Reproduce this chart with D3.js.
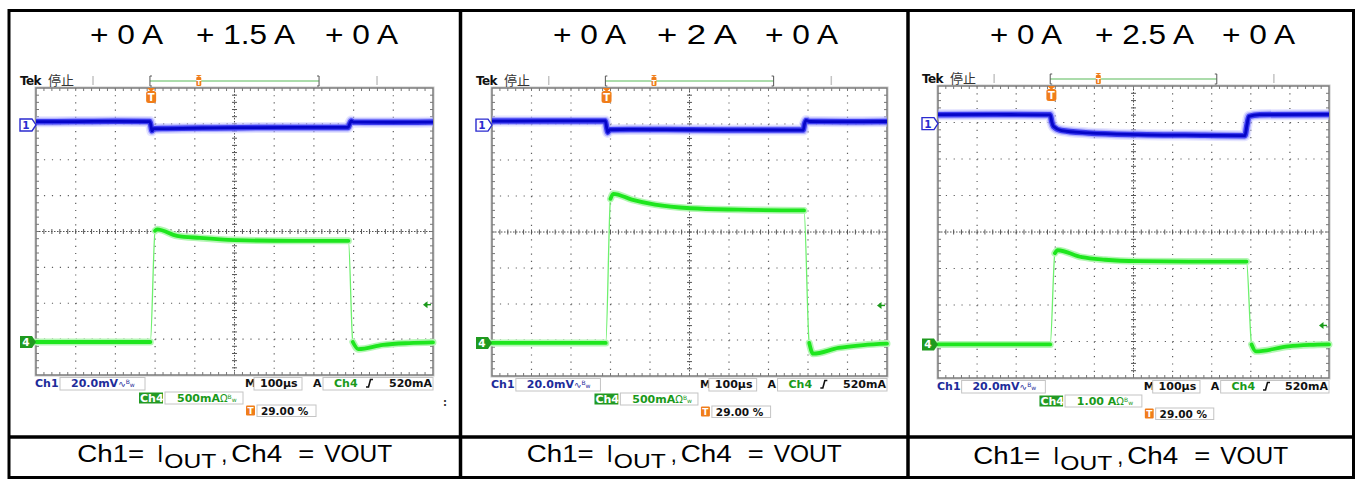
<!DOCTYPE html>
<html>
<head>
<meta charset="utf-8">
<script src="https://cdn.jsdelivr.net/npm/d3@7"></script>
<style>
body{margin:0;background:#fff;}
svg{display:block;}
</style>
</head>
<body>
<svg id="chart" width="1358" height="480"></svg>
<script>
// ---------------- DATA ----------------
const headerLabels = [
  ["+ 0 A", "+ 1.5 A", "+ 0 A"],
  ["+ 0 A", "+ 2 A", "+ 0 A"],
  ["+ 0 A", "+ 2.5 A", "+ 0 A"]
];
const footerParts = ["Ch1=", "I", "OUT", ",", "Ch4", "=", "VOUT"];
const ch1ScaleLabel = "20.0mV";
const ch1PerDiv = 20;                 // mV per division
const ch4ScaleLabels = ["500mA", "500mA", "1.00 A"];
const ch4PerDiv = [0.5, 0.5, 1.0];    // A per division
const timeScaleLabel = "100µs";
const timePerDiv = 100;               // µs per division
const triggerLevelLabel = "520mA";
const triggerLevel = 0.52;            // A
const triggerPosLabel = "29.00 %";
const triggerTime = 290;              // µs
const ch1OffsetDiv = 2.97;            // ch1 reference, divisions above centre
const ch4OffsetDiv = -3.08;           // ch4 reference, divisions above centre

// Ch1 traces: [time µs, mV]
const ch1Panel1 = [[0,1.8],[100,1.9],[200,2.0],[287,1.9],[290,-1.0],[292,-3.3],[296,-2.1],[330,-2.0],[420,-1.7],[520,-1.5],[650,-1.4],[786,-1.4],[790,0.5],[794,2.2],[800,1.6],[900,1.5],[1000,1.6]];
const ch1Panel2 = [[0,2.2],[150,2.3],[287,2.3],[290,-1.0],[293,-4.1],[298,-2.6],[350,-2.4],[500,-2.6],[650,-2.7],[788,-2.8],[791,0.5],[795,2.6],[805,2.0],[900,1.9],[1000,2.0]];
const ch1Panel3 = [[0,4.9],[150,5.0],[287,4.8],[291,1.0],[295,-1.5],[316,-3.8],[384,-5.1],[511,-6.0],[683,-6.4],[785,-6.6],[790,-1.0],[795,4.0],[823,4.9],[1000,5.0]];

// Ch4 traces: [time µs, A]
const ch4Panel1 = [[0,0],[150,0],[288,0],[300,1.55],[305,1.57],[355,1.48],[413,1.45],[501,1.42],[650,1.41],[787,1.41],[798,0],[812,-0.10],[874,-0.04],[940,-0.015],[1000,-0.005]];
const ch4Panel2 = [[0,0],[150,0],[288,0],[300,2.0],[307,2.07],[354,1.99],[413,1.92],[502,1.87],[624,1.85],[790,1.84],[803,0],[813,-0.15],[877,-0.07],[940,-0.03],[1000,-0.01]];
const ch4Panel3 = [[0,0],[150,0],[287,0],[299,2.5],[306,2.58],[368,2.39],[427,2.32],[512,2.28],[650,2.27],[789,2.27],[802,0],[813,-0.19],[896,-0.055],[950,-0.015],[1000,0]];

const ch1Series = [ch1Panel1, ch1Panel2, ch1Panel3];
const ch4Series = [ch4Panel1, ch4Panel2, ch4Panel3];

// ---------------- LAYOUT ----------------
const scopes = [
  {x:36,  y:88, w:397, h:287},
  {x:492, y:88, w:395, h:288},
  {x:938, y:86, w:391, h:292}
];
const panelBounds = [[9,460.5],[460.5,908],[908,1353.5]];
const headerLayout = [
  [[90,73],[196,99],[325,73]],
  [[553,73],[657,80],[765,73]],
  [[990,72],[1095,99],[1222,73]]
];
const footerLayout = [[0,67],[80,6],[87,52],[144,6],[154,51],[221,16],[247,68]];
const footerWidth = 315;

const svg = d3.select("#chart");
const SANS = "'Liberation Sans', Arial, Helvetica, sans-serif";
const SCOPE = "'DejaVu Sans', Verdana, sans-serif";
const BLUE_TXT = "#1d2c9a", GREEN_TXT = "#1a9a1a", ORANGE = "#f07d1a";

svg.append("rect").attr("width",1358).attr("height",480).attr("fill","#fff");

scopes.forEach((s, i) => {
  const g = svg.append("g");
  const x0 = s.x, x1 = s.x + s.w, y0 = s.y, y1 = s.y + s.h;
  const k = s.w / 397;
  const xS = d3.scaleLinear().domain([0, 10*timePerDiv]).range([x0, x1]);
  const divY = d3.scaleLinear().domain([-4, 4]).range([y1, y0]);
  const ch1Y = d3.scaleLinear().domain([(-4-ch1OffsetDiv)*ch1PerDiv, (4-ch1OffsetDiv)*ch1PerDiv]).range([y1, y0]);
  const ch4Y = d3.scaleLinear().domain([(-4-ch4OffsetDiv)*ch4PerDiv[i], (4-ch4OffsetDiv)*ch4PerDiv[i]]).range([y1, y0]);
  const divW = s.w/10, divH = s.h/8;

  // ---- header ----
  headerLabels[i].forEach((t, j) => {
    svg.append("text").attr("x", headerLayout[i][j][0]).attr("y", 44)
      .attr("textLength", headerLayout[i][j][1]).attr("lengthAdjust","spacingAndGlyphs")
      .attr("font-family", SANS).attr("font-size", 27).attr("fill","#000").text(t);
  });

  // ---- grid ----
  const grid = g.append("g");
  d3.range(1,10).filter(d => d !== 5).forEach(d => {
    grid.append("line").attr("x1", xS(d*timePerDiv)).attr("x2", xS(d*timePerDiv))
      .attr("y1", y0).attr("y2", y1).attr("stroke","#5e5e5e").attr("stroke-width",1.2)
      .attr("stroke-dasharray", `1.2,${(divH/5-1.2).toFixed(2)}`);
  });
  d3.range(-3,4).filter(d => d !== 0).forEach(d => {
    grid.append("line").attr("x1", x0).attr("x2", x1).attr("y1", divY(d)).attr("y2", divY(d))
      .attr("stroke","#5e5e5e").attr("stroke-width",1.2)
      .attr("stroke-dasharray", `1.2,${(divW/5-1.2).toFixed(2)}`);
  });
  const cx = xS(5*timePerDiv), cy = divY(0);
  grid.append("line").attr("x1",cx).attr("x2",cx).attr("y1",y0).attr("y2",y1)
    .attr("stroke","#555").attr("stroke-width",1).attr("stroke-dasharray","1.5,1.5");
  grid.append("line").attr("x1",x0).attr("x2",x1).attr("y1",cy).attr("y2",cy)
    .attr("stroke","#555").attr("stroke-width",1).attr("stroke-dasharray","1.5,1.5");
  d3.range(1,50).forEach(m => {
    const xx = xS(m*timePerDiv/5);
    grid.append("line").attr("x1",xx).attr("x2",xx).attr("y1",cy-2.5).attr("y2",cy+2.5).attr("stroke","#555").attr("stroke-width",1);
    grid.append("line").attr("x1",xx).attr("x2",xx).attr("y1",y0).attr("y2",y0+3).attr("stroke","#777").attr("stroke-width",1);
    grid.append("line").attr("x1",xx).attr("x2",xx).attr("y1",y1-3).attr("y2",y1).attr("stroke","#777").attr("stroke-width",1);
  });
  d3.range(1,40).forEach(m => {
    const yy = divY(-4 + m/5);
    grid.append("line").attr("x1",cx-2.5).attr("x2",cx+2.5).attr("y1",yy).attr("y2",yy).attr("stroke","#555").attr("stroke-width",1);
    grid.append("line").attr("x1",x0).attr("x2",x0+3).attr("y1",yy).attr("y2",yy).attr("stroke","#777").attr("stroke-width",1);
    grid.append("line").attr("x1",x1-3).attr("x2",x1).attr("y1",yy).attr("y2",yy).attr("stroke","#777").attr("stroke-width",1);
  });
  grid.append("rect").attr("x",x0-1).attr("y",y0-1).attr("width",s.w+2).attr("height",s.h+2)
    .attr("fill","none").attr("stroke","#c8c8c8").attr("stroke-width",1);
  grid.append("rect").attr("x",x0).attr("y",y0).attr("width",s.w).attr("height",s.h)
    .attr("fill","none").attr("stroke","#7a7a7a").attr("stroke-width",1.5);

  // ---- top bar ----
  g.append("text").attr("x", x0-16).attr("y", y0-3).attr("font-family", SCOPE).attr("font-weight","bold")
    .attr("font-size", 12).attr("letter-spacing", -0.6).attr("fill","#111").text("Tek");
  g.append("text").attr("x", x0+12).attr("y", y0-3).attr("font-family","'Noto Sans CJK SC', sans-serif")
    .attr("font-size", 13).attr("fill","#333").text("停止");
  [0.1436, 0.859].forEach(f => {
    g.append("line").attr("x1", x0+f*s.w).attr("x2", x0+f*s.w).attr("y1", y0-12).attr("y2", y0-3)
      .attr("stroke","#c4c4c4").attr("stroke-width",1.5);
  });
  const bA = x0+0.287*s.w, bB = x0+0.713*s.w, by = y0-7;
  g.append("line").attr("x1",bA).attr("x2",bB).attr("y1",by).attr("y2",by).attr("stroke","#8fd18f").attr("stroke-width",1.6);
  g.append("path").attr("d",`M${bA+2},${by-5}h-2v10h2`).attr("fill","none").attr("stroke","#555").attr("stroke-width",1);
  g.append("path").attr("d",`M${bB-2},${by-5}h2v10h-2`).attr("fill","none").attr("stroke","#555").attr("stroke-width",1);
  const tm = x0 + 0.41*s.w;
  g.append("path").attr("d",`M${tm-3},${y0-13}h6l-3,2z`).attr("fill",ORANGE);
  g.append("rect").attr("x",tm-2.5).attr("y",y0-11).attr("width",5).attr("height",9).attr("rx",1).attr("fill",ORANGE);
  g.append("text").attr("x",tm).attr("y",y0-3.5).attr("text-anchor","middle").attr("font-family",SCOPE)
    .attr("font-weight","bold").attr("font-size",7).attr("fill","#fff").text("T");

  const tx = xS(triggerTime);
  g.append("path").attr("d",`M${tx-4},${y0}h8l-4,4z`).attr("fill",ORANGE);
  g.append("rect").attr("x",tx-5).attr("y",y0+3).attr("width",10).attr("height",12).attr("rx",2.5).attr("fill",ORANGE);
  g.append("text").attr("x",tx).attr("y",y0+13).attr("text-anchor","middle").attr("font-family",SCOPE)
    .attr("font-weight","bold").attr("font-size",10).attr("fill","#fff").text("T");

  // ---- traces ----
  const pts1 = ch1Series[i].map(d => [xS(d[0]), ch1Y(d[1])]);
  const line = d3.line().curve(d3.curveMonotoneX);
  const tr = g.append("g");
  tr.append("path").attr("d", line(pts1)).attr("fill","none").attr("stroke","#c4c4ff").attr("stroke-width",11).attr("stroke-opacity",0.45);
  tr.append("path").attr("d", line(pts1)).attr("fill","none").attr("stroke","#8c8cff").attr("stroke-width",8).attr("stroke-opacity",0.6);
  tr.append("path").attr("d", line(pts1)).attr("fill","none").attr("stroke","#3030ee").attr("stroke-width",5.5).attr("stroke-opacity",0.9);
  tr.append("path").attr("d", line(pts1)).attr("fill","none").attr("stroke","#0606c8").attr("stroke-width",2.8);

  const pts4 = ch4Series[i].map(d => [xS(d[0]), ch4Y(d[1])]);
  tr.append("path").attr("d", line(pts4)).attr("fill","none").attr("stroke","#6ef06e").attr("stroke-width",1.3);
  const runs = [];
  let cur = [pts4[0]];
  for (let p = 1; p < pts4.length; p++) {
    const dx = Math.abs(pts4[p][0]-pts4[p-1][0]), dy = Math.abs(pts4[p][1]-pts4[p-1][1]);
    if (dy > 4*dx) { if (cur.length > 1) runs.push(cur); cur = [pts4[p]]; }
    else cur.push(pts4[p]);
  }
  if (cur.length > 1) runs.push(cur);
  runs.forEach(r => {
    tr.append("path").attr("d", line(r)).attr("fill","none").attr("stroke","#b4f6b4").attr("stroke-width",7).attr("stroke-linecap","round");
    tr.append("path").attr("d", line(r)).attr("fill","none").attr("stroke","#1ee61e").attr("stroke-width",3.8).attr("stroke-linecap","round");
  });

  // ---- channel markers ----
  const m1 = ch1Y(0), m4 = ch4Y(0);
  g.append("path").attr("d",`M${x0-16},${m1-6}h12l4,6l-4,6h-12z`).attr("fill","#fff").attr("stroke","#2b2bd0").attr("stroke-width",1.4);
  g.append("text").attr("x",x0-10).attr("y",m1+4).attr("text-anchor","middle").attr("font-family",SCOPE)
    .attr("font-weight","bold").attr("font-size",10.5).attr("fill","#2b2bd0").text("1");
  g.append("path").attr("d",`M${x0-16},${m4-6}h12l4,6l-4,6h-12z`).attr("fill","#1f9a1f");
  g.append("text").attr("x",x0-10).attr("y",m4+4).attr("text-anchor","middle").attr("font-family",SCOPE)
    .attr("font-weight","bold").attr("font-size",10.5).attr("fill","#fff").text("4");

  const ty = ch4Y(triggerLevel);
  g.append("path").attr("d",`M${x1-10},${ty}l4.5,-3.5v7z`).attr("fill","#1a9a1a");
  g.append("line").attr("x1",x1-6).attr("x2",x1-2).attr("y1",ty).attr("y2",ty).attr("stroke","#1a9a1a").attr("stroke-width",1.4);

  // ---- status rows ----
  const r1 = y1 + 12;
  const box = (xa, xb, ya, h) => g.append("rect").attr("x",xa).attr("y",ya).attr("width",xb-xa).attr("height",h)
      .attr("fill","#fff").attr("stroke","#c4c4c4").attr("stroke-width",1);
  const txt = (x, y, t, fill, size, anchor) => g.append("text").attr("x",x).attr("y",y)
      .attr("text-anchor", anchor || "start").attr("font-family",SCOPE).attr("font-weight","bold")
      .attr("font-size", size || 11).attr("fill",fill).text(t);

  txt(x0-1, r1, "Ch1", BLUE_TXT);
  box(x0+24*k, x0+109*k, y1+2.5, 12.5);
  const t1 = txt(x0+35*k, r1, ch1ScaleLabel, BLUE_TXT);
  t1.append("tspan").attr("font-weight","normal").attr("font-size",9).text("∿");
  t1.append("tspan").attr("font-weight","normal").attr("font-size",6).attr("dy",-3).text("B");
  t1.append("tspan").attr("font-weight","normal").attr("font-size",6).attr("dy",3).text("w");

  txt(x0+209*k, r1, "M", "#111");
  box(x0+218*k, x0+266*k, y1+2.5, 12.5);
  txt(x0+224*k, r1, timeScaleLabel, "#111");
  txt(x0+277*k, r1, "A", "#111");
  box(x0+287*k, x1, y1+2.5, 12.5);
  txt(x0+298*k, r1, "Ch4", GREEN_TXT);
  const ex = x0+330*k;
  g.append("path").attr("d",`M${ex},${r1}h2.5l2,-7.5h2.5`).attr("fill","none").attr("stroke","#111").attr("stroke-width",1.6);
  txt(x1-1, r1, triggerLevelLabel, "#111", 11, "end");

  g.append("rect").attr("x",x0+103*k).attr("y",y1+17.5).attr("width",24*k).attr("height",11).attr("fill","#239a23");
  txt(x0+104*k, y1+27, "Ch4", "#fff");
  box(x0+129*k, x0+207*k, y1+17, 12);
  const t4 = txt(x0+141*k, y1+27, ch4ScaleLabels[i], GREEN_TXT);
  t4.append("tspan").attr("font-weight","normal").attr("font-size",10).text("Ω");
  t4.append("tspan").attr("font-weight","normal").attr("font-size",6).attr("dy",-3).text("B");
  t4.append("tspan").attr("font-weight","normal").attr("font-size",6).attr("dy",3).text("w");

  g.append("rect").attr("x",x0+210*k).attr("y",y1+30.5).attr("width",9*k).attr("height",10).attr("rx",1).attr("fill",ORANGE);
  txt(x0+214.5*k, y1+39, "T", "#fff", 9, "middle");
  box(x0+221*k, x0+280*k, y1+30, 11.5);
  txt(x0+225*k, y1+39.5, triggerPosLabel, "#111", 10.5);

  // ---- footer label ----
  const [pa, pb] = panelBounds[i];
  const fx = (pa + pb)/2 - footerWidth/2;
  const fy = 462 + (i === 2 ? 2 : 0);
  footerParts.forEach((t, j) => {
    const sub = (t === "OUT");
    svg.append("text").attr("x", fx + footerLayout[j][0]).attr("y", fy + (sub ? 5.5 : 0))
      .attr("textLength", footerLayout[j][1]).attr("lengthAdjust","spacingAndGlyphs")
      .attr("font-family", SANS).attr("font-size", sub ? 20 : 23.5).attr("fill","#000").text(t);
  });
});

svg.append("text").attr("x",443).attr("y",406).attr("font-family",SCOPE).attr("font-weight","bold")
  .attr("font-size",10).attr("fill","#333").text(":");

// ---- frame lines ----
const frame = svg.append("g").attr("stroke","#000").attr("fill","none");
frame.append("rect").attr("x",9).attr("y",10.5).attr("width",1344.5).attr("height",467).attr("stroke-width",3);
frame.append("line").attr("x1",460.5).attr("x2",460.5).attr("y1",10).attr("y2",478).attr("stroke-width",3.5);
frame.append("line").attr("x1",908).attr("x2",908).attr("y1",10).attr("y2",478).attr("stroke-width",3.5);
frame.append("line").attr("x1",9).attr("x2",1353.5).attr("y1",437).attr("y2",437).attr("stroke-width",3.5);
</script>
</body>
</html>
